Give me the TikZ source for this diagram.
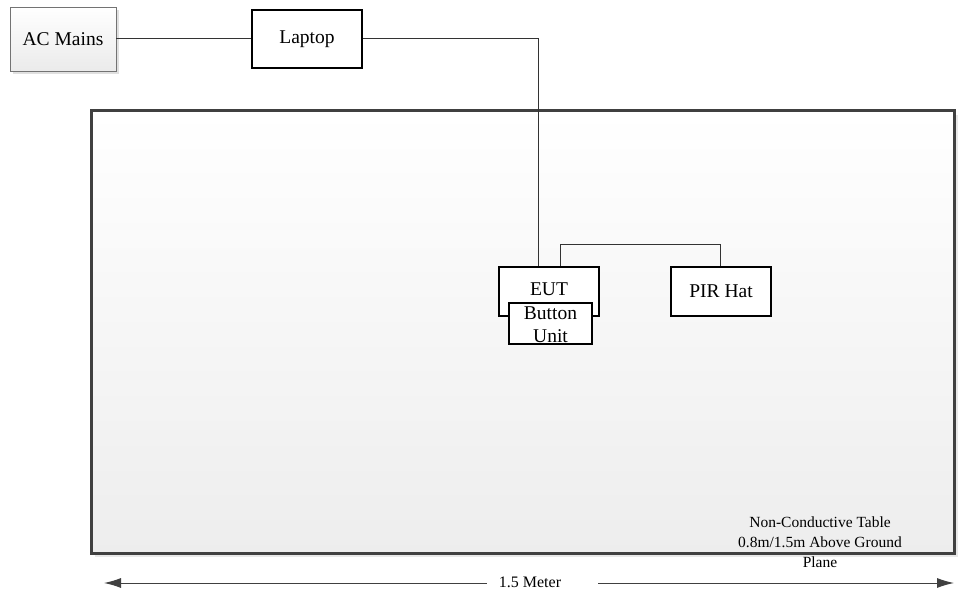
\documentclass[tikz,border=0pt]{standalone}
\usepackage{fontspec}
\setmainfont{Liberation Serif}
\usetikzlibrary{arrows.meta}
\definecolor{edge}{HTML}{404040}
\tikzset{mytip/.tip={Latex[length=17pt,width=10pt]}}
\begin{document}
\begin{tikzpicture}[x=1pt,y=-1pt,
  lbl/.style={font=\fontsize{19.5}{22}\selectfont,inner sep=0pt,align=center},
  blk/.style={draw=black,line width=1.6pt,fill=white,lbl},
  wire/.style={draw=black!80,line width=1pt},
  dimline/.style={draw=edge,line width=1pt}]
\useasboundingbox (0,0) rectangle (975,593);
% table shadow and table
\fill[black!9] (95,115) rectangle (958,557);
\shade[top color=white,bottom color=black!7] (91,111) rectangle (954,553);
\draw[edge,line width=3pt] (91,111) rectangle (954,553);
% AC Mains
\fill[black!12] (13,10) rectangle (119,74);
\node[lbl,draw=black!55,line width=0.8pt,top color=white,bottom color=black!8,minimum width=106pt,minimum height=64pt] (ac) at (63,39) {AC Mains};
\node[blk,minimum width=110pt,minimum height=58pt] (lap) at (307,39) {Laptop};
\node[blk,minimum width=100pt,minimum height=49pt] (eut) at (549,291.5) {};
\node[lbl] (euttxt) at (549,289) {EUT};
\node[blk,minimum width=83pt,minimum height=41pt] (btn) at (550.5,323.5) {};
\node[lbl] (btntxt) at (550.5,324.5) {Button\\[1pt]Unit};
\node[blk,minimum width=100pt,minimum height=49pt] (pir) at (721,291.5) {PIR Hat};
\coordinate (c1) at (538,39);
\coordinate (c2) at (560,245);
\coordinate (c3) at (720,245);
\draw[wire] (ac.east) -- (lap.west);
\draw[wire] (lap.east) -- (c1) -- (c1 |- eut.north);
\draw[wire] (c2 |- eut.north) -- (c2) -- (c3) -- (c3 |- pir.north);
\node[font=\fontsize{15.5}{20}\selectfont,align=center,inner sep=0pt] (tbl) at (820,542) {Non-Conductive Table\\0.8m/1.5m Above Ground\\Plane};
\node[font=\fontsize{16}{18}\selectfont,inner sep=0pt] (meter) at (530,582) {1.5 Meter};
\coordinate (la) at (104,583);
\coordinate (lb) at (487,583);
\coordinate (rb) at (598,583);
\coordinate (ra) at (954,583);
\draw[dimline,{mytip}-] (la) -- (lb);
\draw[dimline,-{mytip}] (rb) -- (ra);
\end{tikzpicture}
\end{document}
